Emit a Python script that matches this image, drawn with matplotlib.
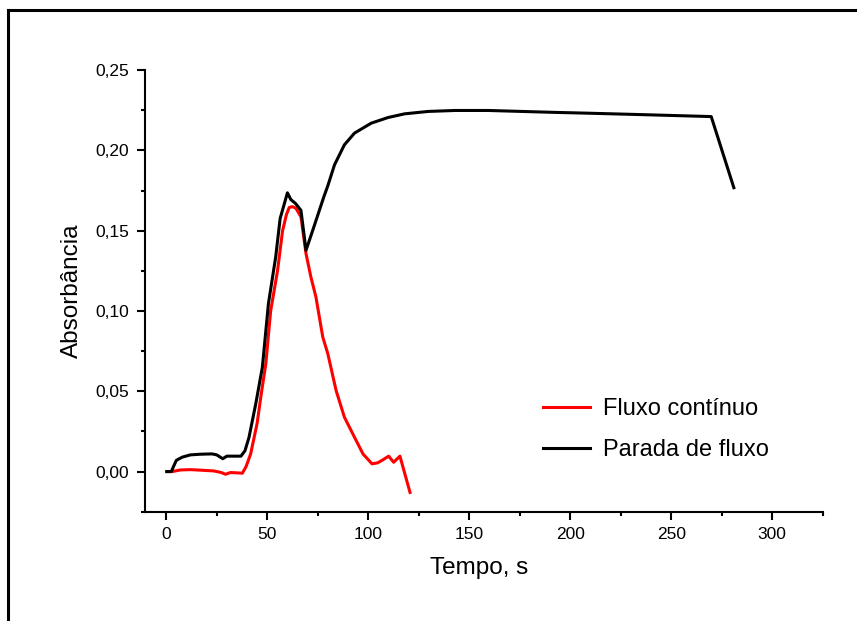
import matplotlib
matplotlib.use("Agg")
import matplotlib.pyplot as plt
from matplotlib.lines import Line2D
from matplotlib.ticker import MultipleLocator, FuncFormatter

plt.rcParams["font.family"] = ["Liberation Sans", "DejaVu Sans"]

# Fluxo continuo (red)
t_cont = [0.3, 3, 7, 12, 18, 23.5, 27, 29.4, 31.8, 35, 37.7, 39.5, 41.8, 45.0,
          47.0, 49.3, 51.7, 55.1, 57.6, 59.5, 60.9, 62.5, 64.2, 66.7, 69.2,
          71.6, 74.1, 77.5, 80.0, 84.1, 88.2, 93.2, 97.4, 101.9, 104.8, 107.5,
          110.1, 112.6, 115.7, 120.7]
a_cont = [0.0, 0.0, 0.001, 0.0012, 0.0008, 0.0004, -0.0005, -0.0017, -0.0006,
          -0.0008, -0.001, 0.003, 0.011, 0.030, 0.048, 0.067, 0.100, 0.125,
          0.150, 0.160, 0.1645, 0.165, 0.164, 0.1587, 0.1358, 0.1213, 0.1088,
          0.0838, 0.0734, 0.0505, 0.0339, 0.0214, 0.011, 0.0048, 0.0055,
          0.0075, 0.0096, 0.0058, 0.0096, -0.013]

# Parada de fluxo (black)
t_stop = [0.3, 2.5, 5, 8, 12, 17, 22.7, 25, 28, 30, 34, 37, 39, 41, 44.3, 47.6,
          50.6, 54.2, 56.4, 60, 61.7, 64, 66.7, 69.2, 73, 78, 80, 83.3, 88.2,
          93.2, 101.5, 109.8, 118, 129.7, 143, 159.5, 176, 192.7, 206, 230,
          250, 269.8, 281]
a_stop = [0.0, 0.0, 0.007, 0.009, 0.0104, 0.0108, 0.011, 0.0104, 0.008, 0.0096,
          0.0096, 0.0096, 0.013, 0.0214, 0.042, 0.065, 0.1046, 0.1337, 0.1576,
          0.1736, 0.1694, 0.167, 0.1627, 0.1378, 0.152, 0.171, 0.178, 0.191,
          0.2035, 0.2108, 0.2170, 0.2205, 0.2228, 0.2243, 0.2249, 0.2249,
          0.2243, 0.2237, 0.2233, 0.2225, 0.2218, 0.2211, 0.1768]

fig = plt.figure(figsize=(8.57, 6.21), dpi=100)
ax = fig.add_axes([0.1692, 0.176, 0.7908, 0.711])

ax.plot(t_cont, a_cont, color="#ff0000", lw=2.2, label="Fluxo contínuo")
ax.plot(t_stop, a_stop, color="black", lw=2.2, label="Parada de fluxo")

ax.set_xlim(-10.5, 325)
ax.set_ylim(-0.025, 0.25)
ax.xaxis.set_major_locator(MultipleLocator(50))
ax.xaxis.set_minor_locator(MultipleLocator(25))
ax.yaxis.set_major_locator(MultipleLocator(0.05))
ax.yaxis.set_minor_locator(MultipleLocator(0.025))
ax.yaxis.set_major_formatter(FuncFormatter(lambda v, p: f"{v:.2f}".replace(".", ",")))

for side in ["top", "right"]:
    ax.spines[side].set_visible(False)
for side in ["left", "bottom"]:
    ax.spines[side].set_linewidth(1.5)

ax.tick_params(which="major", direction="out", length=5.8, width=1.5,
               labelsize=12.5, pad=5.5)
ax.tick_params(which="minor", direction="out", length=3, width=1.5)

ax.set_xlabel("Tempo, s", fontsize=17.5, labelpad=10.5)
ax.xaxis.label.set_x(0.493)
ax.set_ylabel("Absorbância", fontsize=17.5, labelpad=9)

ax.legend(loc="upper left", bbox_to_anchor=(543 / 857, 1 - 398 / 621),
          bbox_transform=fig.transFigure, frameon=False, fontsize=17,
          handlelength=2.0, handletextpad=0.55, labelspacing=0.8,
          borderpad=0, borderaxespad=0)

# partial outer frame
fx = 8 / 857
fy = 1 - 10 / 621
fig.add_artist(Line2D([fx, fx], [0, fy], transform=fig.transFigure,
                      color="black", lw=2.2))
fig.add_artist(Line2D([fx, 1], [fy, fy], transform=fig.transFigure,
                      color="black", lw=2.2))

fig.savefig("out.png", dpi=100)
